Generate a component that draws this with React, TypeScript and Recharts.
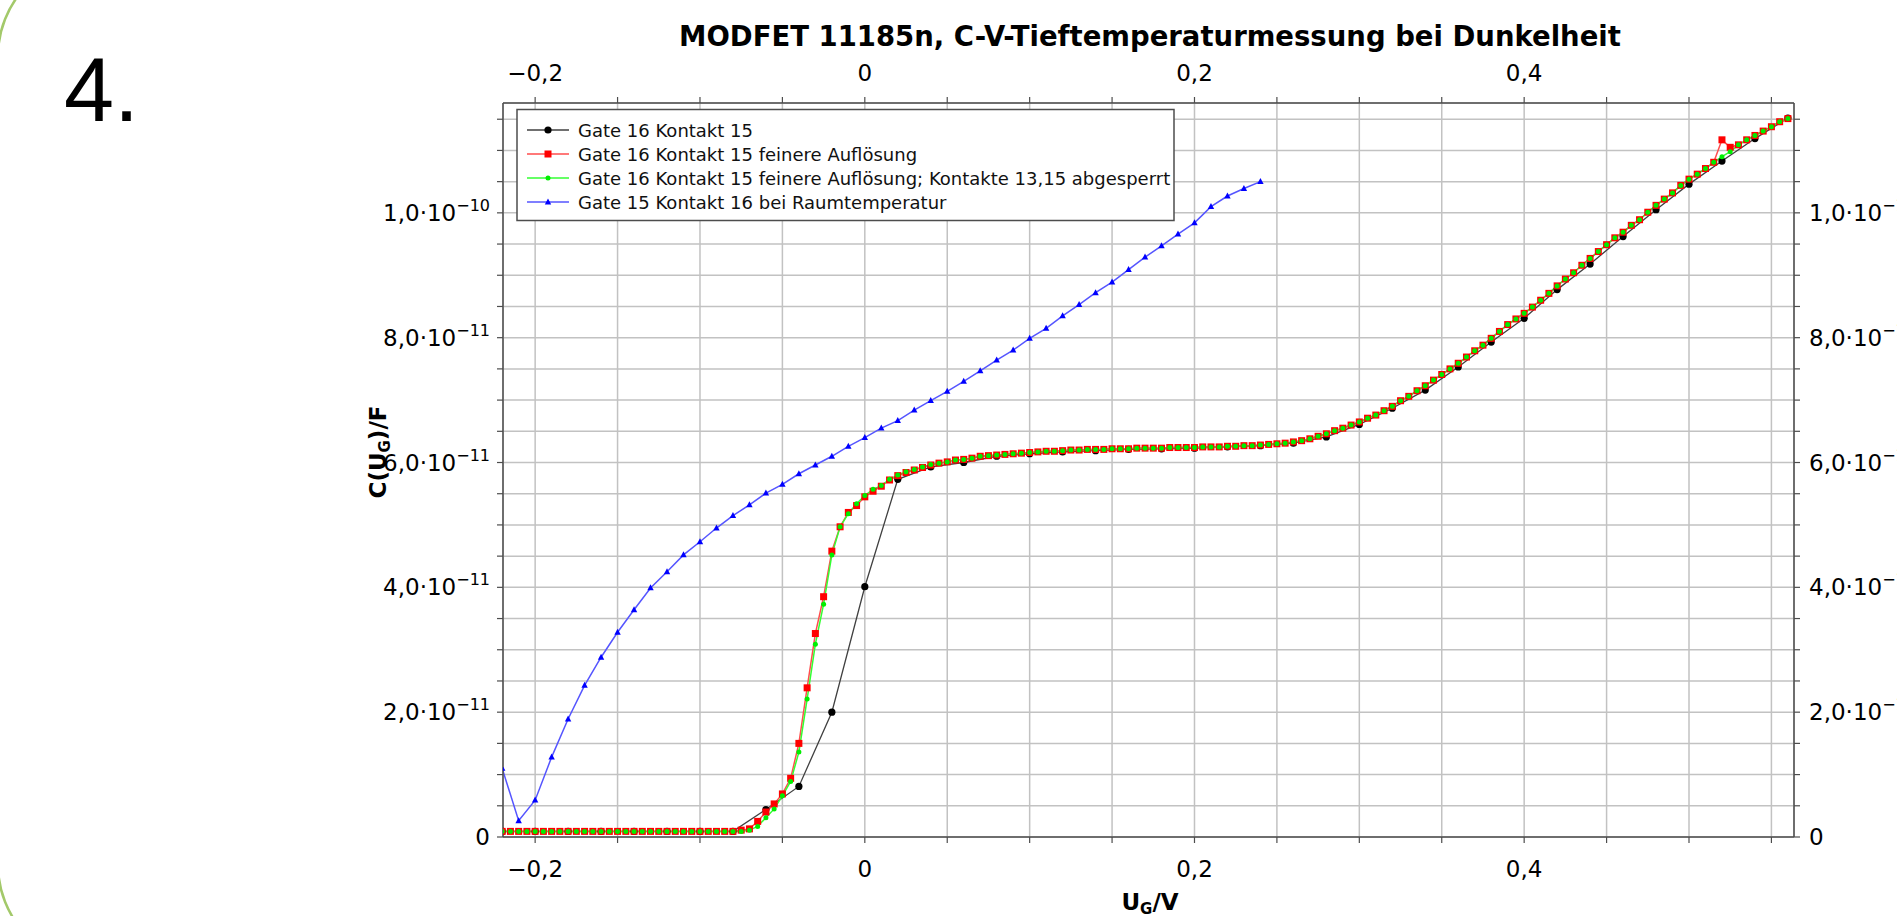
import React from 'react';
import { LineChart, Line, XAxis, YAxis, CartesianGrid } from 'recharts';

const W = 1897;
const H = 916;
const FONT = '"DejaVu Sans", Verdana, sans-serif';
const BIG_FONT = '"Liberation Sans", Arial, sans-serif';
const AXIS_COLOR = '#4d4d4d';

// U_G in V, C in units of 1e-11 F
const startU = -0.22;
const fineStep = 0.005;
const coarseStep = 0.02;
const roomStep = 0.01;

const seriesNames = [
  'Gate 16 Kontakt 15',
  'Gate 16 Kontakt 15 feinere Auflösung',
  'Gate 16 Kontakt 15 feinere Auflösung; Kontakte 13,15 abgesperrt',
  'Gate 15 Kontakt 16 bei Raumtemperatur',
];

// step 0.02 V
const blackC = [
  0.09, 0.09, 0.09, 0.09, 0.09, 0.09, 0.09, 0.09, 0.44, 0.81,
  2.0, 4.01, 5.73, 5.93, 6.0, 6.1, 6.14, 6.17, 6.19, 6.21,
  6.22, 6.23, 6.25, 6.27, 6.31, 6.41, 6.61, 6.87, 7.16, 7.53,
  7.93, 8.31, 8.77, 9.18, 9.62, 10.05, 10.46, 10.83, 11.19, 11.52,
];

// step 0.005 V
const redC = [
  0.09, 0.09, 0.09, 0.09, 0.09, 0.09, 0.09, 0.09, 0.09, 0.09,
  0.09, 0.09, 0.09, 0.09, 0.09, 0.09, 0.09, 0.09, 0.09, 0.09,
  0.09, 0.09, 0.09, 0.09, 0.09, 0.09, 0.09, 0.09,
  0.09, 0.11, 0.13, 0.25, 0.4, 0.53, 0.69, 0.94, 1.5, 2.39,
  3.26, 3.85, 4.58, 4.97, 5.2, 5.31, 5.45, 5.54, 5.62, 5.72,
  5.79, 5.84, 5.88, 5.92, 5.96, 5.99, 6.01, 6.04, 6.05, 6.07,
  6.1, 6.11, 6.12, 6.13, 6.14, 6.15, 6.16, 6.17, 6.18, 6.18,
  6.19, 6.2, 6.2, 6.21, 6.21, 6.21, 6.22, 6.22, 6.22, 6.23,
  6.23, 6.23, 6.23, 6.24, 6.24, 6.24, 6.24, 6.25, 6.25, 6.25,
  6.26, 6.26, 6.27, 6.27, 6.28, 6.29, 6.3, 6.31, 6.33, 6.35,
  6.38, 6.42, 6.46, 6.51, 6.55, 6.6, 6.65, 6.71, 6.76, 6.83,
  6.9, 6.99, 7.06, 7.15, 7.23, 7.32, 7.41, 7.5, 7.59, 7.69,
  7.79, 7.88, 7.99, 8.1, 8.21, 8.3, 8.39, 8.49, 8.6, 8.71,
  8.83, 8.94, 9.04, 9.16, 9.27, 9.38, 9.49, 9.6, 9.69, 9.8,
  9.89, 10.01, 10.12, 10.22, 10.32, 10.44, 10.54, 10.62, 10.71, 10.81,
  11.17, 11.05, 11.09, 11.17, 11.24, 11.31, 11.38, 11.46, 11.51,
];

// step 0.005 V
const greenC = [
  0.09, 0.09, 0.09, 0.09, 0.09, 0.09, 0.09, 0.09, 0.09, 0.09,
  0.09, 0.09, 0.09, 0.09, 0.09, 0.09, 0.09, 0.09, 0.09, 0.09,
  0.09, 0.09, 0.09, 0.09, 0.09, 0.09, 0.09, 0.09,
  0.09, 0.09, 0.11, 0.17, 0.31, 0.45, 0.66, 0.89, 1.36, 2.21,
  3.09, 3.73, 4.52, 4.97, 5.18, 5.34, 5.47, 5.57, 5.63, 5.73,
  5.8, 5.85, 5.89, 5.93, 5.97, 5.99, 6.01, 6.04, 6.05, 6.07,
  6.1, 6.11, 6.12, 6.13, 6.14, 6.15, 6.16, 6.17, 6.18, 6.18,
  6.19, 6.2, 6.2, 6.21, 6.21, 6.21, 6.22, 6.22, 6.22, 6.23,
  6.23, 6.23, 6.23, 6.24, 6.24, 6.24, 6.24, 6.25, 6.25, 6.25,
  6.26, 6.26, 6.27, 6.27, 6.28, 6.29, 6.3, 6.31, 6.33, 6.35,
  6.38, 6.42, 6.46, 6.51, 6.55, 6.6, 6.65, 6.71, 6.76, 6.83,
  6.9, 6.99, 7.06, 7.15, 7.23, 7.32, 7.41, 7.5, 7.59, 7.69,
  7.79, 7.88, 7.99, 8.1, 8.21, 8.3, 8.39, 8.49, 8.6, 8.71,
  8.83, 8.94, 9.04, 9.16, 9.27, 9.38, 9.49, 9.6, 9.69, 9.8,
  9.89, 10.01, 10.12, 10.22, 10.32, 10.44, 10.54, 10.62, 10.71, 10.81,
  10.9, 10.98, 11.09, 11.17, 11.24, 11.31, 11.38, 11.46, 11.51,
];

// step 0.01 V, -0.22 .. 0.24
const blueC = [
  1.1, 0.26, 0.59, 1.28, 1.89, 2.43, 2.88, 3.28, 3.64, 3.99,
  4.25, 4.52, 4.73, 4.95, 5.15, 5.32, 5.51, 5.65, 5.82, 5.96,
  6.1, 6.26, 6.4, 6.55, 6.67, 6.84, 6.99, 7.14, 7.3, 7.47,
  7.64, 7.8, 7.99, 8.15, 8.35, 8.53, 8.72, 8.89, 9.09, 9.29,
  9.47, 9.66, 9.84, 10.1, 10.27, 10.39, 10.5,
];

const xDomain = [-0.2195, 0.5637];
const yDomain = [0, 11.76];

const xTicks = [
  -0.2, -0.15, -0.1, -0.05, 0, 0.05, 0.1, 0.15, 0.2, 0.25, 0.3, 0.35, 0.4,
  0.45, 0.5, 0.55,
];
const yTicks = [
  0, 0.5, 1, 1.5, 2, 2.5, 3, 3.5, 4, 4.5, 5, 5.5, 6, 6.5, 7, 7.5, 8, 8.5, 9,
  9.5, 10, 10.5, 11, 11.5,
];
const xTickLabels: [number, string][] = [
  [-0.2, '−0,2'],
  [0, '0'],
  [0.2, '0,2'],
  [0.4, '0,4'],
];
const yTickLabels: [number, string, string][] = [
  [0, '0', ''],
  [2, '2,0·10', '−11'],
  [4, '4,0·10', '−11'],
  [6, '6,0·10', '−11'],
  [8, '8,0·10', '−11'],
  [10, '1,0·10', '−10'],
];

const toPoints = (values: number[], step: number) =>
  values.map((c, i) => ({
    u: Math.round((startU + i * step) * 10000) / 10000,
    c,
  }));

const blackData = toPoints(blackC, coarseStep);
const redData = toPoints(redC, fineStep);
const greenData = toPoints(greenC, fineStep);
const blueData = toPoints(blueC, roomStep);

const findX = (v: number) => xTickLabels.find(([t]) => Math.abs(t - v) < 1e-6);
const findY = (v: number) => yTickLabels.find(([t]) => Math.abs(t - v) < 1e-6);

type Kind = 'circle' | 'square' | 'dot' | 'triangle';

const marker = (kind: Kind, cx: number, cy: number, key?: string) => {
  if (cx == null || cy == null) return <g key={key} />;
  if (kind === 'circle')
    return <circle key={key} cx={cx} cy={cy} r={3.6} fill="#000" />;
  if (kind === 'square')
    return (
      <rect key={key} x={cx - 3.5} y={cy - 3.5} width={7} height={7} fill="#ff0000" />
    );
  if (kind === 'dot')
    return <circle key={key} cx={cx} cy={cy} r={2.5} fill="#00ee00" />;
  return (
    <polygon
      key={key}
      points={`${cx},${cy - 3.6} ${cx - 3.2},${cy + 2.4} ${cx + 3.2},${cy + 2.4}`}
      fill="#0000ff"
    />
  );
};

const dotOf = (kind: Kind, id: string) => (p: any) =>
  marker(kind, p.cx, p.cy, `${id}-${p.index}`);

const BottomTick = (p: any) => {
  const l = findX(p.payload.value);
  if (!l) return <g />;
  return (
    <text x={p.x} y={p.y + 30} textAnchor="middle" fontSize={23} fontFamily={FONT} fill="#000">
      {l[1]}
    </text>
  );
};

const TopTick = (p: any) => {
  const l = findX(p.payload.value);
  if (!l) return <g />;
  return (
    <text x={p.x} y={p.y - 12} textAnchor="middle" fontSize={23} fontFamily={FONT} fill="#000">
      {l[1]}
    </text>
  );
};

const yLabel = (p: any, anchor: 'start' | 'end') => {
  const l = findY(p.payload.value);
  if (!l) return <g />;
  return (
    <text x={p.x} y={p.y + 8} textAnchor={anchor} fontSize={23} fontFamily={FONT} fill="#000">
      {l[1]}
      {l[2] ? (
        <tspan dy={-10} fontSize={16}>
          {l[2]}
        </tspan>
      ) : null}
    </text>
  );
};

const LeftTick = (p: any) => yLabel(p, 'end');
const RightTick = (p: any) => yLabel(p, 'start');

const legendRows: { name: string; color: string; kind: Kind }[] = [
  { name: seriesNames[0], color: '#404040', kind: 'circle' },
  { name: seriesNames[1], color: '#ff4d4d', kind: 'square' },
  { name: seriesNames[2], color: '#33ff33', kind: 'dot' },
  { name: seriesNames[3], color: '#5555ff', kind: 'triangle' },
];

const axisLine = { stroke: AXIS_COLOR, strokeWidth: 1.5 };
const tickLine = { stroke: AXIS_COLOR, strokeWidth: 1.2 };

export default function App() {
  return (
    <div
      style={{
        position: 'absolute',
        left: 0,
        top: 0,
        width: W,
        height: H,
        overflow: 'hidden',
        background: '#fff',
      }}
    >
      <LineChart
        width={W}
        height={H}
        margin={{ top: 3, right: 3, bottom: 19, left: 403 }}
      >
        <CartesianGrid
          xAxisId="bottom"
          yAxisId="left"
          stroke="#c2c2c2"
          strokeWidth={1.5}
        />
        <XAxis
          xAxisId="bottom"
          orientation="bottom"
          type="number"
          dataKey="u"
          domain={xDomain}
          allowDataOverflow
          ticks={xTicks}
          interval={0}
          tick={BottomTick}
          tickSize={6}
          tickMargin={4}
          height={60}
          axisLine={axisLine}
          tickLine={tickLine}
        />
        <XAxis
          xAxisId="top"
          orientation="top"
          type="number"
          dataKey="u"
          domain={xDomain}
          allowDataOverflow
          ticks={xTicks}
          interval={0}
          tick={TopTick}
          tickSize={6}
          tickMargin={4}
          height={100}
          axisLine={axisLine}
          tickLine={tickLine}
        />
        <YAxis
          yAxisId="left"
          orientation="left"
          type="number"
          domain={yDomain}
          allowDataOverflow
          ticks={yTicks}
          interval={0}
          tick={LeftTick}
          tickSize={6}
          tickMargin={7}
          width={100}
          axisLine={axisLine}
          tickLine={tickLine}
        />
        <YAxis
          yAxisId="right"
          orientation="right"
          type="number"
          domain={yDomain}
          allowDataOverflow
          ticks={yTicks}
          interval={0}
          tick={RightTick}
          tickSize={6}
          tickMargin={9}
          width={100}
          axisLine={axisLine}
          tickLine={tickLine}
        />
        <Line
          xAxisId="bottom"
          yAxisId="left"
          data={blackData}
          dataKey="c"
          name={seriesNames[0]}
          type="linear"
          stroke="#404040"
          strokeWidth={1.3}
          dot={dotOf('circle', 'b')}
          activeDot={false}
          isAnimationActive={false}
        />
        <Line
          xAxisId="bottom"
          yAxisId="left"
          data={redData}
          dataKey="c"
          name={seriesNames[1]}
          type="linear"
          stroke="#ff4d4d"
          strokeWidth={1.5}
          dot={dotOf('square', 'r')}
          activeDot={false}
          isAnimationActive={false}
        />
        <Line
          xAxisId="bottom"
          yAxisId="left"
          data={greenData}
          dataKey="c"
          name={seriesNames[2]}
          type="linear"
          stroke="#33ff33"
          strokeWidth={1.5}
          dot={dotOf('dot', 'g')}
          activeDot={false}
          isAnimationActive={false}
        />
        <Line
          xAxisId="bottom"
          yAxisId="left"
          data={blueData}
          dataKey="c"
          name={seriesNames[3]}
          type="linear"
          stroke="#5555ff"
          strokeWidth={1.5}
          dot={dotOf('triangle', 'bl')}
          activeDot={false}
          isAnimationActive={false}
        />
      </LineChart>
      <svg
        width={W}
        height={H}
        style={{ position: 'absolute', left: 0, top: 0, pointerEvents: 'none' }}
        fontFamily={FONT}
      >
        <rect
          x={-2}
          y={-44}
          width={2200}
          height={1009}
          rx={100}
          ry={100}
          fill="none"
          stroke="#a3c96a"
          strokeWidth={2.5}
        />
        <text x={64} y={121} fontSize={90} fontFamily={BIG_FONT} fill="#000">
          4.
        </text>
        <text x={1150} y={46} textAnchor="middle" fontSize={27.5} fontWeight="bold" fill="#000">
          MODFET 11185n, C-V-Tieftemperaturmessung bei Dunkelheit
        </text>
        <text x={1150} y={910} textAnchor="middle" fontSize={23} fontWeight="bold" fill="#000">
          U
          <tspan dy={4} fontSize={15}>
            G
          </tspan>
          <tspan dy={-4}>/V</tspan>
        </text>
        <text
          transform="translate(386,452) rotate(-90)"
          textAnchor="middle"
          fontSize={23}
          fontWeight="bold"
          fill="#000"
        >
          C(U
          <tspan dy={4} fontSize={15}>
            G
          </tspan>
          <tspan dy={-4}>)/F</tspan>
        </text>
        <rect
          x={517}
          y={109.5}
          width={657}
          height={111}
          fill="#fff"
          stroke={AXIS_COLOR}
          strokeWidth={1.5}
        />
        {legendRows.map((row, i) => {
          const cy = 130 + i * 24;
          return (
            <g key={row.name}>
              <line x1={527} x2={569} y1={cy} y2={cy} stroke={row.color} strokeWidth={1.5} />
              {marker(row.kind, 548, cy)}
              <text x={578} y={cy + 6.5} fontSize={18} fill="#111">
                {row.name}
              </text>
            </g>
          );
        })}
      </svg>
    </div>
  );
}
